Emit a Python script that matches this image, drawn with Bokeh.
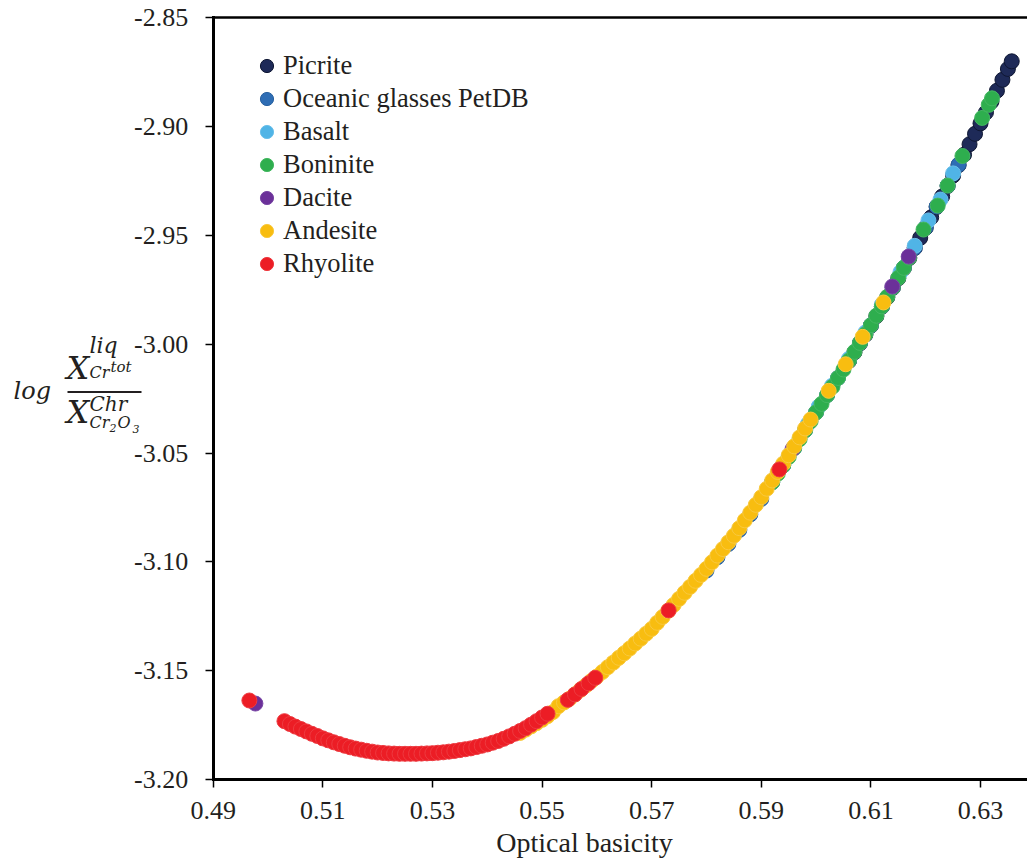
from bokeh.plotting import figure
from bokeh.models import (Label, Legend, LegendItem, BoxAnnotation, LinearAxis,
                          NumeralTickFormatter, FixedTicker, Range1d)
from bokeh.embed import file_html
from bokeh.resources import INLINE

# ---------------- data ----------------
series_names = ["Picrite", "Oceanic glasses PetDB", "Basalt", "Boninite",
                "Dacite", "Andesite", "Rhyolite"]
series_colors = ["#1E2A58", "#2E6DB4", "#50B4E6", "#2EAE4E",
                 "#6B3099", "#F8BD10", "#EC1D25"]
series_edges = ["#0F1733", "#2A62A0", "#6CC0EA", "#45B862",
                "#7A48A6", "#F9C93E", "#EE3A40"]

picrite_x = [0.606, 0.607, 0.608, 0.609, 0.610, 0.611, 0.612, 0.613, 0.614, 0.615,
             0.616, 0.617, 0.618, 0.619, 0.620, 0.621, 0.622, 0.623, 0.624, 0.625,
             0.626, 0.627, 0.628, 0.629, 0.630, 0.631, 0.632, 0.633, 0.634, 0.635,
             0.6357]
picrite_y = [-3.0077, -3.0037, -2.9996, -2.9956, -2.9915, -2.9871, -2.9828, -2.9784, -2.9741, -2.9697,
             -2.9651, -2.9604, -2.9558, -2.9511, -2.9465, -2.9417, -2.9369, -2.9321, -2.9273, -2.9225,
             -2.9177, -2.9129, -2.9081, -2.9033, -2.8985, -2.8935, -2.8885, -2.8835, -2.8785, -2.8735,
             -2.8700]

oceanic_x = [0.580, 0.582, 0.584, 0.586, 0.588, 0.590, 0.592, 0.594, 0.596, 0.598,
             0.600, 0.602, 0.604, 0.606, 0.608, 0.610, 0.612, 0.614, 0.616, 0.618,
             0.620, 0.622, 0.624, 0.626]
oceanic_y = [-3.1040, -3.0979, -3.0918, -3.0853, -3.0782, -3.0711, -3.0634, -3.0557, -3.0477, -3.0395,
             -3.0313, -3.0234, -3.0155, -3.0075, -2.9994, -2.9913, -2.9826, -2.9739, -2.9649, -2.9556,
             -2.9463, -2.9367, -2.9271, -2.9175]

basalt_x = [0.5985, 0.6005, 0.6029, 0.6060, 0.6090, 0.6120, 0.6154, 0.6180, 0.6205, 0.6227, 0.6250]
basalt_y = [-3.0367, -3.0286, -3.0191, -3.0067, -2.9946, -2.9818, -2.9669, -2.9548, -2.9431, -2.9335, -2.9215]

boninite_x = [0.592, 0.593, 0.594, 0.595, 0.596, 0.597, 0.598, 0.599, 0.600, 0.601,
              0.602, 0.603, 0.604, 0.605, 0.606, 0.607, 0.608, 0.609, 0.610, 0.611,
              0.612, 0.613, 0.614, 0.615, 0.616, 0.617,
              0.6196, 0.6222, 0.6240, 0.6267, 0.6303, 0.6315, 0.6321]
boninite_y = [-3.0634, -3.0595, -3.0557, -3.0518, -3.0477, -3.0436, -3.0395, -3.0354, -3.0313, -3.0274,
              -3.0234, -3.0195, -3.0155, -3.0116, -3.0075, -3.0035, -2.9994, -2.9954, -2.9913, -2.9869,
              -2.9826, -2.9782, -2.9739, -2.9695, -2.9649, -2.9602,
              -2.9473, -2.9363, -2.9271, -2.9135, -2.8960, -2.8900, -2.8870]

dacite_x = [0.4977, 0.5957, 0.6139, 0.6169]
dacite_y = [-3.1651, -3.0482, -2.9735, -2.9597]

andesite_x = [0.546, 0.547, 0.548, 0.549, 0.550, 0.551, 0.552, 0.553, 0.554, 0.555,
              0.556, 0.557, 0.558, 0.559, 0.560, 0.561, 0.562, 0.563, 0.564, 0.565,
              0.566, 0.567, 0.568, 0.569, 0.570, 0.571, 0.572, 0.573, 0.574, 0.575,
              0.576, 0.577, 0.578, 0.579, 0.580, 0.581, 0.582, 0.583, 0.584, 0.585,
              0.586, 0.587, 0.588, 0.589, 0.590, 0.591, 0.592, 0.593, 0.594, 0.595,
              0.596, 0.597, 0.598, 0.599,
              0.6023, 0.6054, 0.6085, 0.6123]
andesite_y = [-3.1786, -3.1771, -3.1756, -3.1741, -3.1726, -3.1709, -3.1690, -3.1663, -3.1646, -3.1629,
              -3.1609, -3.1588, -3.1568, -3.1547, -3.1527, -3.1506, -3.1484, -3.1463, -3.1441, -3.1420,
              -3.1398, -3.1375, -3.1353, -3.1330, -3.1308, -3.1280, -3.1253, -3.1225, -3.1198, -3.1170,
              -3.1142, -3.1115, -3.1087, -3.1060, -3.1032, -3.1002, -3.0971, -3.0941, -3.0910, -3.0880,
              -3.0845, -3.0809, -3.0774, -3.0738, -3.0703, -3.0664, -3.0626, -3.0587, -3.0549, -3.0510,
              -3.0469, -3.0428, -3.0387, -3.0346,
              -3.0214, -3.0092, -2.9966, -2.9808]

rhyolite_x = [0.4966,
              0.503, 0.504, 0.505, 0.506, 0.507, 0.508, 0.509, 0.510, 0.511, 0.512,
              0.513, 0.514, 0.515, 0.516, 0.517, 0.518, 0.519, 0.520, 0.521, 0.522,
              0.523, 0.524, 0.525, 0.526, 0.527, 0.528, 0.529, 0.530, 0.531, 0.532,
              0.533, 0.534, 0.535, 0.536, 0.537, 0.538, 0.539, 0.540, 0.541, 0.542,
              0.543, 0.544, 0.545, 0.546, 0.547, 0.548, 0.549, 0.550, 0.551,
              0.5547, 0.5560, 0.5572, 0.5585, 0.5597, 0.5731, 0.5933]
rhyolite_y = [-3.1637,
              -3.1732, -3.1745, -3.1757, -3.1768, -3.1779, -3.1790, -3.1800, -3.1811, -3.1820, -3.1829,
              -3.1837, -3.1845, -3.1852, -3.1858, -3.1863, -3.1868, -3.1872, -3.1876, -3.1878, -3.1880,
              -3.1881, -3.1882, -3.1882, -3.1882, -3.1882, -3.1881, -3.1880, -3.1879, -3.1877, -3.1875,
              -3.1872, -3.1869, -3.1865, -3.1861, -3.1857, -3.1851, -3.1845, -3.1839, -3.1831, -3.1823,
              -3.1813, -3.1802, -3.1790, -3.1777, -3.1764, -3.1748, -3.1732, -3.1715, -3.1698,
              -3.1634, -3.1609, -3.1584, -3.1558, -3.1533, -3.1223, -3.0575]

x_ticks = [0.49, 0.51, 0.53, 0.55, 0.57, 0.59, 0.61, 0.63]
y_ticks = [-3.20, -3.15, -3.10, -3.05, -3.00, -2.95, -2.90, -2.85]
x_title = "Optical basicity"

series_x = [picrite_x, oceanic_x, basalt_x, boninite_x, dacite_x, andesite_x, rhyolite_x]
series_y = [picrite_y, oceanic_y, basalt_y, boninite_y, dacite_y, andesite_y, rhyolite_y]

# ---------------- figure: the frame fills the canvas, axes sit at fixed places ----------------
W, H = 1027, 858
AX_LEFT_PX, AX_BOTTOM_PX, AX_TOP_PX = 212.7, 779.0, 17.3
x_per_px = (x_ticks[-1] - x_ticks[0]) / (980.0 - AX_LEFT_PX)
y_per_px = (y_ticks[-1] - y_ticks[0]) / (AX_BOTTOM_PX - AX_TOP_PX)
x_start = x_ticks[0] - AX_LEFT_PX * x_per_px
x_end = x_ticks[0] + (W - AX_LEFT_PX) * x_per_px
y_start = y_ticks[0] - (H - AX_BOTTOM_PX) * y_per_px
y_end = y_ticks[-1] + AX_TOP_PX * y_per_px

p = figure(width=W, height=H, output_backend="svg", toolbar_location=None,
           x_range=Range1d(x_start, x_end), y_range=Range1d(y_start, y_end),
           min_border=0)
p.outline_line_color = None
p.grid.visible = False
p.background_fill_color = "white"
p.border_fill_color = "white"

TXT = "#231F20"
SERIF = "Liberation Serif"
for ax in (p.xaxis[0], p.yaxis[0]):
    ax.axis_line_width = 3
    ax.axis_line_color = "black"
    ax.axis_line_cap = "square"
    ax.major_tick_line_color = "black"
    ax.major_tick_line_width = 1.5
    ax.major_tick_out = 8
    ax.major_tick_in = 0
    ax.minor_tick_line_color = None
    ax.major_label_text_font = SERIF
    ax.major_label_text_font_size = "26px"
    ax.major_label_text_color = TXT
    ax.formatter = NumeralTickFormatter(format="0.00")
p.xaxis.ticker = FixedTicker(ticks=x_ticks)
p.yaxis.ticker = FixedTicker(ticks=y_ticks)
p.xaxis.fixed_location = y_ticks[0]
p.yaxis.fixed_location = x_ticks[0]
p.xaxis.bounds = (x_ticks[0], x_end)
p.yaxis.bounds = (y_ticks[0], y_ticks[-1])
p.yaxis.major_label_standoff = 17
p.xaxis.major_label_standoff = 14

# top frame line
top_axis = LinearAxis(fixed_location=y_ticks[-1], bounds=(x_ticks[0], x_end),
                      ticker=FixedTicker(ticks=[]), axis_line_width=2.5,
                      axis_line_color="black", major_tick_line_color=None,
                      minor_tick_line_color=None, major_label_text_alpha=0)
p.add_layout(top_axis, "above")

renderers = []
for xs, ys, c, e in zip(series_x, series_y, series_colors, series_edges):
    r = p.scatter(xs, ys, size=15, fill_color=c, line_color=e, line_width=1)
    renderers.append(r)

legend = Legend(items=[LegendItem(label=n, renderers=[r]) for n, r in zip(series_names, renderers)],
                location=(250, 578), orientation="vertical",
                glyph_width=33, glyph_height=33, label_height=33, spacing=0,
                padding=0, margin=0, label_standoff=0,
                border_line_color=None, background_fill_alpha=0,
                label_text_font=SERIF, label_text_font_size="26.5px",
                label_text_color=TXT)
p.add_layout(legend)

# ---------------- axis titles as text (canvas pixel positions) ----------------
LABEL_SHIFT = 10   # Bokeh draws these labels this much lower than the given baseline


def page_label(text, px, py, size, font="DejaVu Serif", style="italic", align="left"):
    p.add_layout(Label(x=px, y=H - (py - LABEL_SHIFT), x_units="screen", y_units="screen",
                       text=text, text_font=font, text_font_style=style,
                       text_font_size=f"{size}px", text_color=TXT,
                       text_baseline="alphabetic", text_align=align))


page_label(x_title, 584, 852, 28, font=SERIF, style="normal", align="center")

# y title: log  X^liq_{Cr^tot} / X^Chr_{Cr2O3}
page_label("log", 13, 400, 24)
page_label("X", 66, 377, 32)
page_label("liq", 89, 355, 22)
page_label("Cr", 89, 382, 16)
page_label("tot", 110, 376, 15)
page_label("X", 66, 421, 32)
page_label("Chr", 89, 413, 20)
page_label("Cr", 89, 432, 16)
page_label("2", 109, 437, 11)
page_label("O", 117, 432, 16)
page_label("3", 132, 438, 11)
p.add_layout(BoxAnnotation(left=67, right=141, bottom=H - 392.5, top=H - 390.5,
                           left_units="screen", right_units="screen",
                           top_units="screen", bottom_units="screen",
                           fill_color=TXT, fill_alpha=1, line_color=None))

open("out.html", "w").write(file_html(p, INLINE))
